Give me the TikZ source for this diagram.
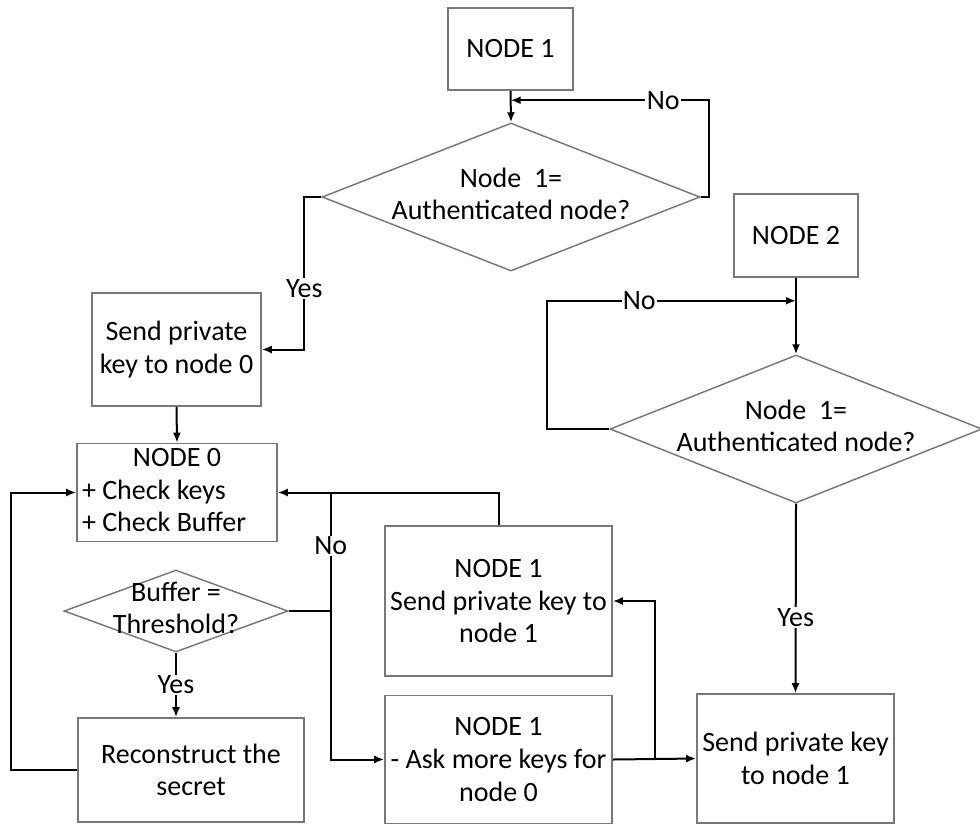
\documentclass[tikz,border=0pt]{standalone}
\usepackage{fontspec}
\setmainfont{Carlito}
\usetikzlibrary{shapes.geometric,arrows.meta,calc}
\tikzset{every picture/.style={line width=0.75pt}}
\newcommand{\decide}[1]{\makebox[0pt]{\begin{tabular}{@{}c@{}}#1\end{tabular}}}

\begin{document}
\begin{tikzpicture}[x=0.75pt,y=0.75pt,yscale=-1,xscale=1,
	font=\fontsize{21}{24.5}\selectfont,
	box/.style={draw={rgb, 255:red, 120; green, 120; blue, 120 }, line width=1.2pt, align=center, inner sep=3pt},
	choice/.style={draw={rgb, 255:red, 120; green, 120; blue, 120 }, line width=1.1pt, shape=diamond, inner sep=0pt, minimum width=283.5pt, minimum height=111pt},
	conn/.style={line width=1.5pt, -{Latex[length=7.5pt,width=6pt]}},
	wire/.style={line width=1.5pt},
	lbl/.style={fill=white, inner sep=1pt}]
	\useasboundingbox (0,0) rectangle (980,825);

	%Shape: Rectangle
	\node[box, minimum width=93.75pt, minimum height=61.5pt] (nodeone) at (510.5,49) {NODE 1};
	%Shape: Diamond
	\node[choice] (authone) at (511,197) {\decide{Node~~1=\\Authenticated node?}};
	%Shape: Rectangle
	\node[box, minimum width=126.75pt, minimum height=84.75pt] (keyzero) at (176.5,349.5) {Send private\\key to node 0};
	%Shape: Rectangle
	\node[box, minimum width=150pt, minimum height=71.25pt, inner xsep=3.75pt, inner ysep=0pt] (nodezero) at (177,492.5) {\begin{tabular}{@{}l@{}}\makebox[142.5pt]{NODE 0}\\+ Check keys\\+ Check Buffer\end{tabular}};
	%Shape: Diamond
	\node[choice, minimum width=168pt, minimum height=61.5pt] (buffer) at (176,611) {\decide{Buffer =\\Threshold?}};
	%Shape: Rectangle
	\node[box, minimum width=169.5pt, minimum height=78pt] (rebuild) at (191,770) {Reconstruct the\\secret};
	%Shape: Rectangle
	\node[box, minimum width=170.25pt, minimum height=112.5pt] (sendone) at (498.5,601) {NODE 1\\Send private key to\\node 1};
	%Shape: Rectangle
	\node[box, minimum width=170.25pt, minimum height=96pt] (askmore) at (498.5,759.5) {NODE 1\\- Ask more keys for\\node 0};
	%Shape: Rectangle
	\node[box, minimum width=93pt, minimum height=62.25pt] (nodetwo) at (796,235.5) {NODE 2};
	%Shape: Diamond
	\node[choice, minimum width=279pt] (authtwo) at (796,429) {\decide{Node~~1=\\Authenticated node?}};
	%Shape: Rectangle
	\node[box, minimum width=147.75pt, minimum height=96.75pt] (keyone) at (795.5,758.5) {Send private key\\to node 1};

	\coordinate (loopone) at ($(nodeone.south)!0.3!(authone.north)$);
	\coordinate (looptwo) at ($(nodetwo.south)!0.3!(authtwo.north)$);
	\coordinate (bufno) at ($(buffer.east)+(42,0)$);
	\coordinate (askjoin) at ($(askmore.east)!0.5!(keyone.west)$);

	%Straight Lines
	\draw[conn] (nodeone.south) -- (authone.north);
	\draw[conn] (authone.east) -- ++(8,0) |- (loopone) node[lbl, pos=0.615] {No};
	\draw[conn] (authone.west) -- ++(-17,0) |- (keyzero.east) node[lbl, pos=0.3] {Yes};
	\draw[conn] (keyzero.south) -- (nodezero.north);
	\draw[conn] (rebuild.west) -- ++(-66,0) |- (nodezero.west);
	\draw[conn] (sendone.north) |- (nodezero.east);
	\draw[wire] (buffer.east) -- (bufno);
	\draw[conn] (bufno |- nodezero.east) |- (askmore.west) node[lbl, pos=0.1] {No};
	\draw[conn] (buffer.south) -- (buffer.south |- rebuild.north) node[lbl, midway] {Yes};
	\draw[conn] (askmore.east) -- (keyone.west);
	\draw[conn] (askjoin) |- (sendone.east);
	%Straight Lines
	\draw[conn] (nodetwo.south) -- (authtwo.north);
	\draw[conn] (authtwo.west) -- ++(-62,0) |- (looptwo) node[lbl, pos=0.685] {No};
	\draw[conn] (authtwo.south) -- (keyone.north) node[lbl, pos=0.6] {Yes};

\end{tikzpicture}
\end{document}
